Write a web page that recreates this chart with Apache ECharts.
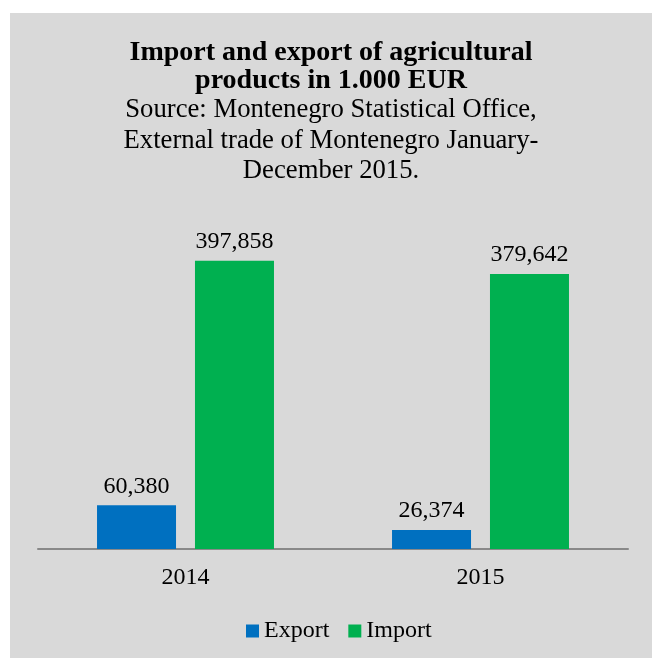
<!DOCTYPE html>
<html>
<head>
<meta charset="utf-8">
<script src="https://cdn.jsdelivr.net/npm/echarts@6/dist/echarts.min.js"></script>
<style>
  html, body { margin: 0; padding: 0; background: #fff; }
  #chart { position: absolute; left: 10px; top: 13px; width: 642px; height: 645px; }
</style>
</head>
<body>
<div id="chart"></div>
<script>
// data
var years = ['2014', '2015'];
var exportValues = [60380, 26374];
var importValues = [397858, 379642];

var serif = "'Liberation Serif', 'Times New Roman', serif";

var chart = echarts.init(document.getElementById('chart'));

function fmt(p) {
  return p.value.toLocaleString('en-US');
}

var option = {
  backgroundColor: '#d9d9d9',
  title: {
    text: 'Import and export of agricultural\nproducts in 1.000 EUR',
    subtext: 'Source: Montenegro Statistical Office,\nExternal trade of Montenegro January-\nDecember 2015.',
    left: 'center',
    top: 26,
    padding: 0,
    itemGap: 0,
    textStyle: { fontFamily: serif, fontSize: 28, fontWeight: 'bold', color: '#000', lineHeight: 28 },
    subtextStyle: { fontFamily: serif, fontSize: 26.7, color: '#000', lineHeight: 30.5 }
  },
  legend: {
    data: ['Export', 'Import'],
    left: 231,
    top: 601,
    icon: 'rect',
    itemWidth: 13,
    itemHeight: 13,
    itemGap: 19,
    textStyle: { fontFamily: serif, fontSize: 24, color: '#000' }
  },
  grid: { left: 28, right: 24, top: 210, bottom: 109 },
  xAxis: {
    type: 'category',
    data: years,
    axisLine: { lineStyle: { color: '#898989', width: 2 } },
    axisTick: { show: false },
    axisLabel: { fontFamily: serif, fontSize: 24, color: '#000', margin: 17 }
  },
  yAxis: {
    type: 'value',
    min: 0,
    max: 450000,
    show: false,
    splitLine: { show: false }
  },
  series: [
    {
      name: 'Export',
      type: 'bar',
      data: exportValues,
      barWidth: 79,
      barGap: '24%',
      itemStyle: { color: '#0070c0' },
      label: { show: true, position: 'top', distance: 7, fontFamily: serif, fontSize: 24, color: '#000', formatter: fmt }
    },
    {
      name: 'Import',
      type: 'bar',
      data: importValues,
      barWidth: 79,
      itemStyle: { color: '#00b050' },
      label: { show: true, position: 'top', distance: 7, fontFamily: serif, fontSize: 24, color: '#000', formatter: fmt }
    }
  ]
};

chart.setOption(option);
</script>
</body>
</html>
